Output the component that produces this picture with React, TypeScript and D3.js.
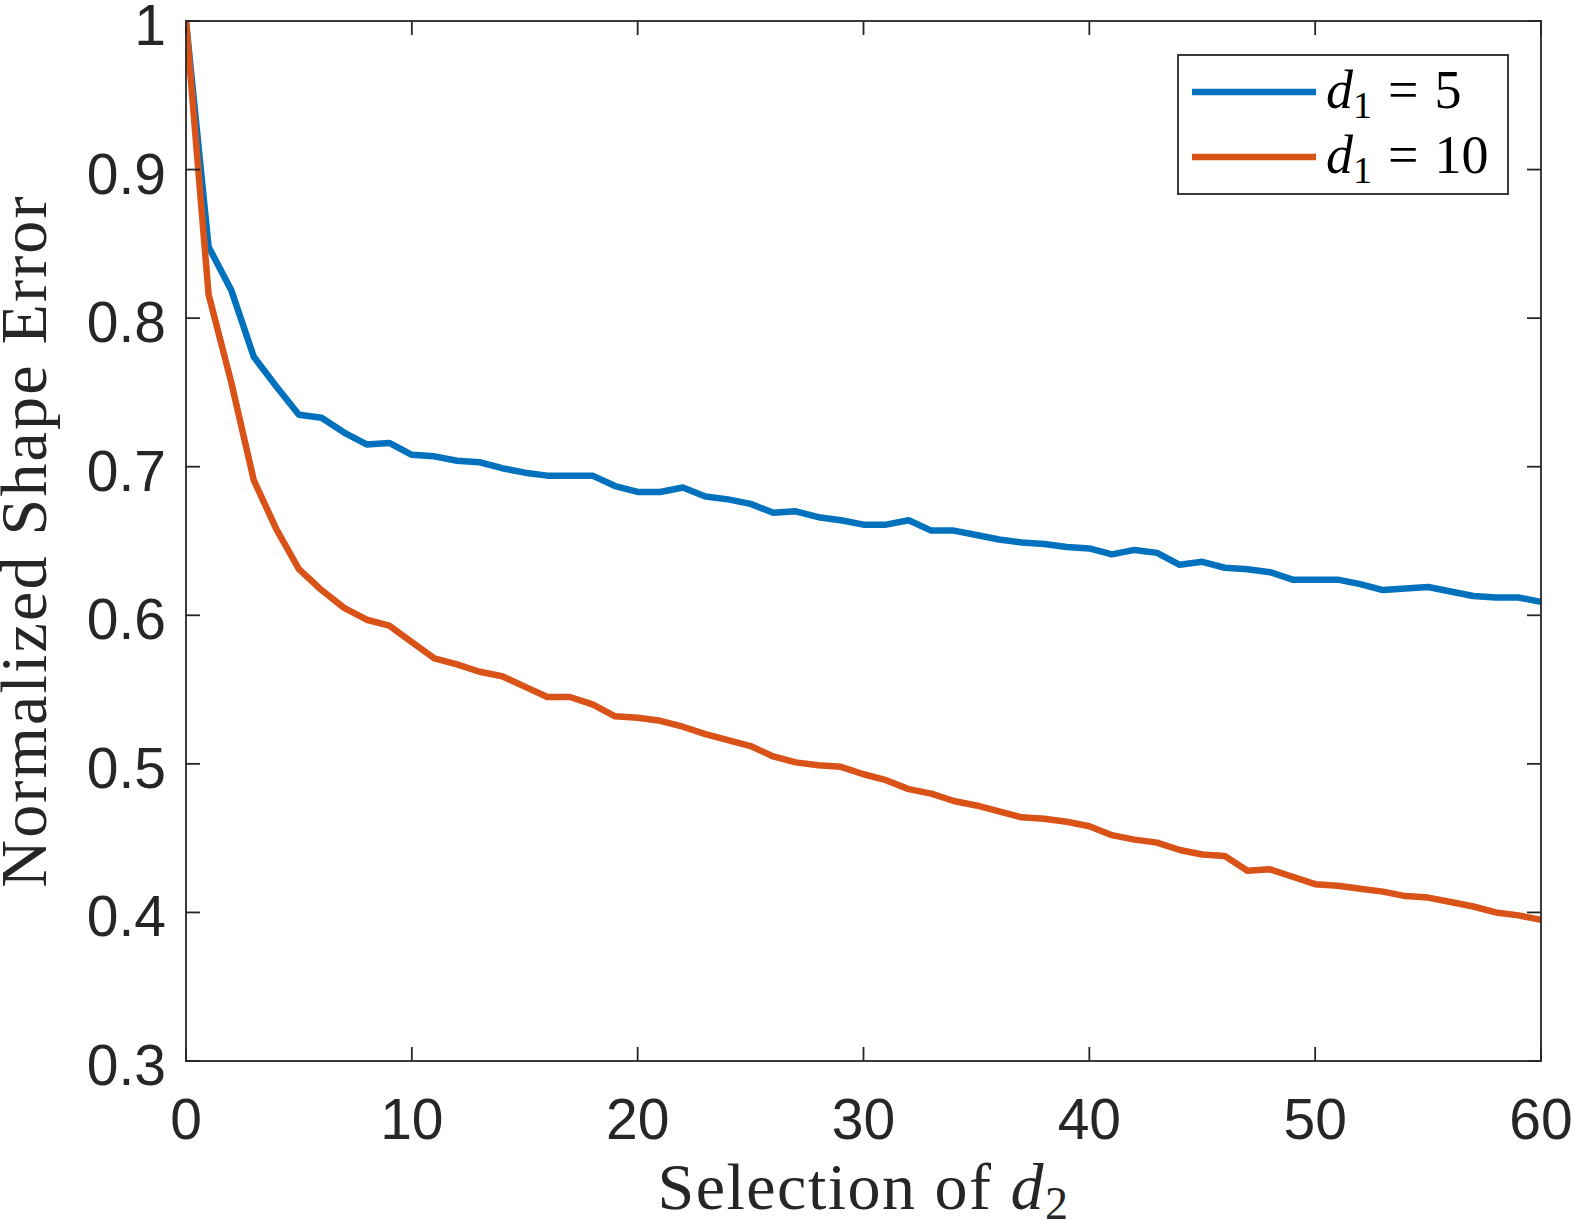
import { useEffect, useRef } from 'react';
import * as d3 from 'd3';

// d2 values 0..60
const d2Values: number[] = d3.range(0, 61);

// Normalized shape error for d1 = 5
const errD1Five: number[] = [
    1.0, 0.848, 0.819, 0.774, 0.754, 0.735, 0.733, 0.723, 0.715, 0.716,
    0.708, 0.707, 0.704, 0.703, 0.699, 0.696, 0.694, 0.694, 0.694, 0.687,
    0.683, 0.683, 0.686, 0.680, 0.678, 0.675, 0.669, 0.670, 0.666, 0.664,
    0.661, 0.661, 0.664, 0.657, 0.657, 0.654, 0.651, 0.649, 0.648, 0.646,
    0.645, 0.641, 0.644, 0.642, 0.634, 0.636, 0.632, 0.631, 0.629, 0.624,
    0.624, 0.624, 0.621, 0.617, 0.618, 0.619, 0.616, 0.613, 0.612, 0.612,
    0.609,
];

// Normalized shape error for d1 = 10
const errD1Ten: number[] = [
    1.0, 0.816, 0.757, 0.691, 0.658, 0.631, 0.617, 0.605, 0.597, 0.593,
    0.582, 0.571, 0.567, 0.562, 0.559, 0.552, 0.545, 0.545, 0.540, 0.532,
    0.531, 0.529, 0.525, 0.520, 0.516, 0.512, 0.505, 0.501, 0.499, 0.498,
    0.493, 0.489, 0.483, 0.480, 0.475, 0.472, 0.468, 0.464, 0.463, 0.461,
    0.458, 0.452, 0.449, 0.447, 0.442, 0.439, 0.438, 0.428, 0.429, 0.424,
    0.419, 0.418, 0.416, 0.414, 0.411, 0.410, 0.407, 0.404, 0.400, 0.398,
    0.395,
];

const xTicks = [0, 10, 20, 30, 40, 50, 60];
const yTicks = [0.3, 0.4, 0.5, 0.6, 0.7, 0.8, 0.9, 1];

const seriesLabels = ['5', '10'];
const seriesColors = ['#0072BD', '#D95319'];

export default function App() {
    const svgRef = useRef<SVGSVGElement>(null);

    useEffect(() => {
        if (!svgRef.current) return;
        const width = 1574;
        const height = 1225;
        const box = { left: 186, right: 1541, top: 21, bottom: 1061 };
        const axisColor = '#262626';
        const sans = 'Arial, "Liberation Sans", Helvetica, sans-serif';
        const serif = '"Liberation Serif", "DejaVu Serif", serif';

        d3.select(svgRef.current).selectAll('*').remove();
        const svg = d3.select(svgRef.current)
            .attr('width', width)
            .attr('height', height);

        svg.append('rect')
            .attr('width', width)
            .attr('height', height)
            .attr('fill', 'white');

        const xScale = d3.scaleLinear().domain([0, 60]).range([box.left, box.right]);
        const yScale = d3.scaleLinear().domain([0.3, 1]).range([box.bottom, box.top]);

        // Lines, clipped to the axes box
        svg.append('defs')
            .append('clipPath')
            .attr('id', 'plotClip')
            .append('rect')
            .attr('x', box.left)
            .attr('y', box.top - 4)
            .attr('width', box.right - box.left + 4)
            .attr('height', box.bottom - box.top + 4);

        const line = d3.line<number>()
            .x((_, i) => xScale(d2Values[i]))
            .y(d => yScale(d));

        const plot = svg.append('g').attr('clip-path', 'url(#plotClip)');
        [errD1Five, errD1Ten].forEach((series, k) => {
            plot.append('path')
                .datum(series)
                .attr('fill', 'none')
                .attr('stroke', seriesColors[k])
                .attr('stroke-width', 6.5)
                .attr('stroke-linejoin', 'round')
                .attr('d', line);
        });

        // Axes box
        const axes = svg.append('g')
            .attr('stroke', axisColor)
            .attr('stroke-width', 1.8)
            .attr('fill', 'none');
        axes.append('rect')
            .attr('x', box.left)
            .attr('y', box.top)
            .attr('width', box.right - box.left)
            .attr('height', box.bottom - box.top);

        const tickLen = 14;
        xTicks.forEach(t => {
            const x = xScale(t);
            axes.append('line').attr('x1', x).attr('x2', x)
                .attr('y1', box.bottom).attr('y2', box.bottom - tickLen);
            axes.append('line').attr('x1', x).attr('x2', x)
                .attr('y1', box.top).attr('y2', box.top + tickLen);
        });
        yTicks.forEach(t => {
            const y = yScale(t);
            axes.append('line').attr('x1', box.left).attr('x2', box.left + tickLen)
                .attr('y1', y).attr('y2', y);
            axes.append('line').attr('x1', box.right).attr('x2', box.right - tickLen)
                .attr('y1', y).attr('y2', y);
        });

        // Tick labels
        const fmtY = (d: number) => (d === 1 ? '1' : d3.format('.1f')(d));
        svg.append('g')
            .selectAll('text')
            .data(yTicks)
            .enter()
            .append('text')
            .attr('x', 166)
            .attr('y', d => yScale(d) + 24)
            .attr('text-anchor', 'end')
            .attr('font-family', sans)
            .attr('font-size', 57)
            .attr('fill', axisColor)
            .text(d => fmtY(d));

        svg.append('g')
            .selectAll('text')
            .data(xTicks)
            .enter()
            .append('text')
            .attr('x', d => xScale(d))
            .attr('y', 1139)
            .attr('text-anchor', 'middle')
            .attr('font-family', sans)
            .attr('font-size', 57)
            .attr('fill', axisColor)
            .text(d => String(d));

        // Axis titles
        const xTitle = svg.append('text')
            .attr('x', (box.left + box.right) / 2)
            .attr('y', 1209)
            .attr('text-anchor', 'middle')
            .attr('font-family', serif)
            .attr('font-size', 66)
            .attr('letter-spacing', 1.5)
            .attr('fill', axisColor);
        xTitle.append('tspan').text('Selection of ');
        xTitle.append('tspan').attr('font-style', 'italic').text('d');
        xTitle.append('tspan').attr('font-size', 46).attr('dy', 10).text('2');

        svg.append('text')
            .attr('transform', `translate(46,${(box.top + box.bottom) / 2}) rotate(-90)`)
            .attr('text-anchor', 'middle')
            .attr('font-family', serif)
            .attr('font-size', 66)
            .attr('letter-spacing', 2.2)
            .attr('fill', axisColor)
            .text('Normalized Shape Error');

        // Legend
        const legend = svg.append('g');
        legend.append('rect')
            .attr('x', 1178)
            .attr('y', 55)
            .attr('width', 330)
            .attr('height', 139)
            .attr('fill', 'white')
            .attr('stroke', axisColor)
            .attr('stroke-width', 1.8);

        const legendRows = [92, 157];
        seriesLabels.forEach((lab, k) => {
            const y = legendRows[k];
            legend.append('line')
                .attr('x1', 1192)
                .attr('x2', 1316)
                .attr('y1', y)
                .attr('y2', y)
                .attr('stroke', seriesColors[k])
                .attr('stroke-width', 6.5);
            const t = legend.append('text')
                .attr('x', 1326)
                .attr('y', y + 16)
                .attr('font-family', serif)
                .attr('font-size', 54)
                .attr('fill', 'black');
            t.append('tspan').attr('font-style', 'italic').text('d');
            t.append('tspan').attr('font-size', 38).attr('dy', 10).text('1');
            t.append('tspan').attr('dy', -10).attr('dx', 16).text('=');
            t.append('tspan').attr('dx', 16).text(lab);
        });
    }, []);

    return (
        <svg
            ref={svgRef}
            style={{ position: 'absolute', left: 0, top: 0, display: 'block' }}
        />
    );
}
